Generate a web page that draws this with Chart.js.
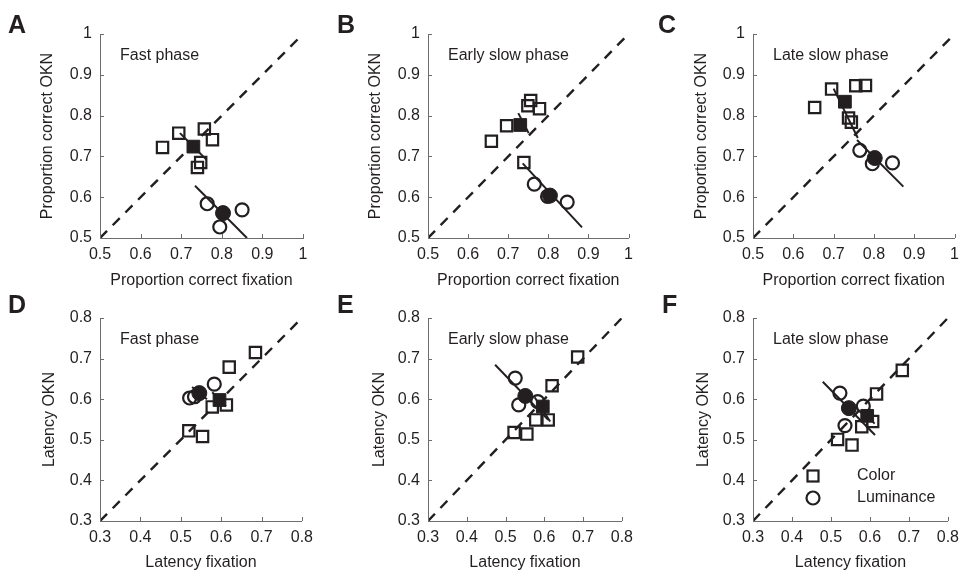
<!DOCTYPE html>
<html>
<head>
<meta charset="utf-8">
<script src="https://cdn.jsdelivr.net/npm/chart.js@4/dist/chart.umd.min.js"></script>
<style>
	body { margin: 0; background: #fff; }
	#wrap { position: relative; width: 966px; height: 572px; overflow: hidden; }
	canvas { position: absolute; }
</style>
</head>
<body>
<div id="wrap"></div>
<script>
// Axis ranges / ticks
const propTicks = [0.5, 0.6, 0.7, 0.8, 0.9, 1];
const latTicks = [0.3, 0.4, 0.5, 0.6, 0.7, 0.8];

// A - proportion correct, fast phase
const colorA = [[0.654, 0.722], [0.694, 0.757], [0.757, 0.767], [0.777, 0.741], [0.748, 0.685], [0.740, 0.673]];
const lumA = [[0.764, 0.584], [0.795, 0.527], [0.850, 0.569]];
const meanColorA = [0.730, 0.724];
const meanLumA = [0.803, 0.561];
const fitColorA = [[0.697, 0.757], [0.762, 0.692]];
const fitLumA = [[0.734, 0.628], [0.862, 0.5]];

// B - proportion correct, early slow phase
const colorB = [[0.756, 0.837], [0.749, 0.824], [0.778, 0.817], [0.696, 0.775], [0.658, 0.737], [0.739, 0.685]];
const lumB = [[0.765, 0.632], [0.798, 0.602], [0.847, 0.588]];
const meanColorB = [0.730, 0.777];
const meanLumB = [0.804, 0.604];
const fitColorB = [[0.725, 0.806], [0.751, 0.757]];
const fitLumB = [[0.736, 0.683], [0.884, 0.526]];

// C - proportion correct, late slow phase
const colorC = [[0.653, 0.820], [0.695, 0.865], [0.755, 0.873], [0.779, 0.874], [0.737, 0.794], [0.744, 0.784]];
const lumC = [[0.765, 0.715], [0.796, 0.682], [0.846, 0.684]];
const meanColorC = [0.728, 0.834];
const meanLumC = [0.802, 0.696];
const fitColorC = [[0.700, 0.866], [0.760, 0.745]];
const fitLumC = [[0.758, 0.740], [0.873, 0.626]];

// D - latency, fast phase
const colorD = [[0.685, 0.715], [0.620, 0.679], [0.578, 0.581], [0.613, 0.586], [0.520, 0.522], [0.554, 0.508]];
const lumD = [[0.522, 0.603], [0.534, 0.606], [0.583, 0.637]];
const meanColorD = [0.596, 0.598];
const meanLumD = [0.546, 0.615];
const fitColorD = [[0.578, 0.617], [0.612, 0.582]];
const fitLumD = [[0.528, 0.630], [0.565, 0.600]];

// E - latency, early slow phase
const colorE = [[0.686, 0.704], [0.620, 0.633], [0.578, 0.549], [0.610, 0.549], [0.522, 0.518], [0.555, 0.514]];
const lumE = [[0.525, 0.652], [0.534, 0.586], [0.583, 0.594]];
const meanColorE = [0.596, 0.582];
const meanLumE = [0.551, 0.608];
const fitColorE = [[0.575, 0.605], [0.615, 0.545]];
const fitLumE = [[0.473, 0.685], [0.610, 0.549]];

// F - latency, late slow phase
const colorF = [[0.683, 0.671], [0.617, 0.613], [0.579, 0.532], [0.607, 0.545], [0.517, 0.501], [0.554, 0.487]];
const lumF = [[0.523, 0.615], [0.536, 0.535], [0.583, 0.583]];
const meanColorF = [0.593, 0.559];
const meanLumF = [0.546, 0.578];
const fitColorF = [[0.578, 0.575], [0.612, 0.540]];
const fitLumF = [[0.479, 0.643], [0.613, 0.512]];

const INK = '#231f20';
const AXIS = '#6d6d6d';
const FONT = '"Liberation Sans", Arial, Helvetica, sans-serif';

const panels = [
	{ letter: 'A', lx: 8, phase: 'Fast phase', ticks: propTicks, xt: 'Proportion correct fixation', yt: 'Proportion correct OKN',
		color: colorA, lum: lumA, mc: meanColorA, ml: meanLumA, fc: fitColorA, fl: fitLumA,
		left: 0, top: 0, w: 320, h: 292, yw: 100, pt: 34, pr: 17, xh: 54, ytp: 38, xtp: 2 },
	{ letter: 'B', lx: 17, phase: 'Early slow phase', ticks: propTicks, xt: 'Proportion correct fixation', yt: 'Proportion correct OKN',
		color: colorB, lum: lumB, mc: meanColorB, ml: meanLumB, fc: fitColorB, fl: fitLumB,
		left: 320, top: 0, w: 320, h: 292, yw: 108, pt: 34, pr: 8, xh: 54, ytp: 46, xtp: 2 },
	{ letter: 'C', lx: 18, phase: 'Late slow phase', ticks: propTicks, xt: 'Proportion correct fixation', yt: 'Proportion correct OKN',
		color: colorC, lum: lumC, mc: meanColorC, ml: meanLumC, fc: fitColorC, fl: fitLumC,
		left: 640, top: 0, w: 326, h: 292, yw: 113, pt: 34, pr: 9, xh: 54, ytp: 52, xtp: 2 },
	{ letter: 'D', lx: 8, phase: 'Fast phase', ticks: latTicks, xt: 'Latency fixation', yt: 'Latency OKN',
		color: colorD, lum: lumD, mc: meanColorD, ml: meanLumD, fc: fitColorD, fl: fitLumD,
		left: 0, top: 280, w: 320, h: 292, yw: 100, pt: 38, pr: 17, xh: 51, ytp: 40, xtp: 0 },
	{ letter: 'E', lx: 17, phase: 'Early slow phase', ticks: latTicks, xt: 'Latency fixation', yt: 'Latency OKN',
		color: colorE, lum: lumE, mc: meanColorE, ml: meanLumE, fc: fitColorE, fl: fitLumE,
		left: 320, top: 280, w: 320, h: 292, yw: 108, pt: 38, pr: 8, xh: 51, ytp: 50, xtp: 0 },
	{ letter: 'F', lx: 22, phase: 'Late slow phase', ticks: latTicks, xt: 'Latency fixation', yt: 'Latency OKN',
		color: colorF, lum: lumF, mc: meanColorF, ml: meanLumF, fc: fitColorF, fl: fitLumF,
		left: 640, top: 280, w: 326, h: 292, yw: 113, pt: 38, pr: 9, xh: 51, ytp: 54, xtp: 0, legend: true }
];

const toPts = arr => arr.map(p => ({ x: p[0], y: p[1] }));

// inward tick marks, panel letter, phase label, legend
const decorPlugin = {
	id: 'decor',
	afterDraw(chart, args, opts) {
		const ctx = chart.ctx;
		const area = chart.chartArea;
		const sx = chart.scales.x, sy = chart.scales.y;
		ctx.save();
		ctx.strokeStyle = AXIS;
		ctx.lineWidth = 1;
		ctx.beginPath();
		opts.ticks.forEach(t => {
			const px = Math.round(sx.getPixelForValue(t)) + 0.5;
			ctx.moveTo(px, area.bottom);
			ctx.lineTo(px, area.bottom - 4);
			const py = Math.round(sy.getPixelForValue(t)) + 0.5;
			ctx.moveTo(area.left, py);
			ctx.lineTo(area.left + 4, py);
		});
		ctx.stroke();

		ctx.fillStyle = INK;
		ctx.font = 'bold 25px ' + FONT;
		ctx.textBaseline = 'alphabetic';
		ctx.textAlign = 'left';
		ctx.fillText(opts.letter, opts.lx, 33);

		ctx.font = '16px ' + FONT;
		ctx.textBaseline = 'middle';
		ctx.fillText(opts.phase, area.left + 20, area.top + 22);

		if (opts.legend) {
			const lx = area.left + 60;
			ctx.strokeStyle = INK;
			ctx.lineWidth = 2.2;
			ctx.strokeRect(lx - 5.5, area.top + 152.5, 11, 11);
			ctx.beginPath();
			ctx.arc(lx, area.top + 180, 6.5, 0, Math.PI * 2);
			ctx.stroke();
			ctx.fillText('Color', area.left + 104, area.top + 158);
			ctx.fillText('Luminance', area.left + 104, area.top + 180);
		}
		ctx.restore();
	}
};

const wrap = document.getElementById('wrap');

panels.forEach(p => {
	const canvas = document.createElement('canvas');
	canvas.width = p.w;
	canvas.height = p.h;
	canvas.style.left = p.left + 'px';
	canvas.style.top = p.top + 'px';
	canvas.style.width = p.w + 'px';
	canvas.style.height = p.h + 'px';
	wrap.appendChild(canvas);

	const min = p.ticks[0], max = p.ticks[p.ticks.length - 1];
	const tickFont = { family: FONT, size: 16 };

	new Chart(canvas.getContext('2d'), {
		type: 'scatter',
		data: {
			datasets: [
				{
					data: [{ x: min, y: min }, { x: max, y: max }],
					type: 'line', borderColor: INK, borderWidth: 2.4, borderDash: [10, 8],
					pointRadius: 0, fill: false
				},
				{
					data: toPts(p.fc), type: 'line', borderColor: INK, borderWidth: 2,
					pointRadius: 0, fill: false
				},
				{
					data: toPts(p.fl), type: 'line', borderColor: INK, borderWidth: 2,
					pointRadius: 0, fill: false
				},
				{
					label: 'Color', data: toPts(p.color), pointStyle: 'rect', pointRadius: 8,
					borderColor: INK, borderWidth: 2.2, backgroundColor: 'rgba(0,0,0,0)', clip: false
				},
				{
					label: 'Luminance', data: toPts(p.lum), pointStyle: 'circle', pointRadius: 6.5,
					borderColor: INK, borderWidth: 2.2, backgroundColor: 'rgba(0,0,0,0)', clip: false
				},
				{
					data: toPts([p.mc]), pointStyle: 'rect', pointRadius: 9,
					borderColor: INK, borderWidth: 1, backgroundColor: INK, clip: false
				},
				{
					data: toPts([p.ml]), pointStyle: 'circle', pointRadius: 7.5,
					borderColor: INK, borderWidth: 1, backgroundColor: INK, clip: false
				}
			]
		},
		options: {
			responsive: false,
			animation: false,
			devicePixelRatio: 1,
			layout: { padding: { top: p.pt, right: p.pr, left: 0, bottom: 0 } },
			plugins: {
				legend: { display: false },
				tooltip: { enabled: false },
				decor: { ticks: p.ticks, letter: p.letter, lx: p.lx, phase: p.phase, legend: !!p.legend }
			},
			scales: {
				x: {
					type: 'linear', min: min, max: max,
					border: { color: AXIS, width: 1 },
					grid: { display: true, drawOnChartArea: false, drawTicks: false },
					ticks: {
						stepSize: 0.1, padding: 7, color: INK, font: tickFont, maxRotation: 0,
						callback: v => String(Math.round(v * 10) / 10)
					},
					title: { display: true, text: p.xt, color: INK, font: tickFont, padding: { top: 0, bottom: p.xtp } },
					afterFit: s => { s.height = p.xh; }
				},
				y: {
					type: 'linear', min: min, max: max,
					border: { color: AXIS, width: 1 },
					grid: { display: true, drawOnChartArea: false, drawTicks: false },
					ticks: {
						stepSize: 0.1, padding: 8, color: INK, font: tickFont,
						callback: v => String(Math.round(v * 10) / 10)
					},
					title: { display: true, text: p.yt, color: INK, font: tickFont, padding: { top: p.ytp, bottom: 0 } },
					afterFit: s => { s.width = p.yw; }
				}
			}
		},
		plugins: [decorPlugin]
	});
});
</script>
</body>
</html>
